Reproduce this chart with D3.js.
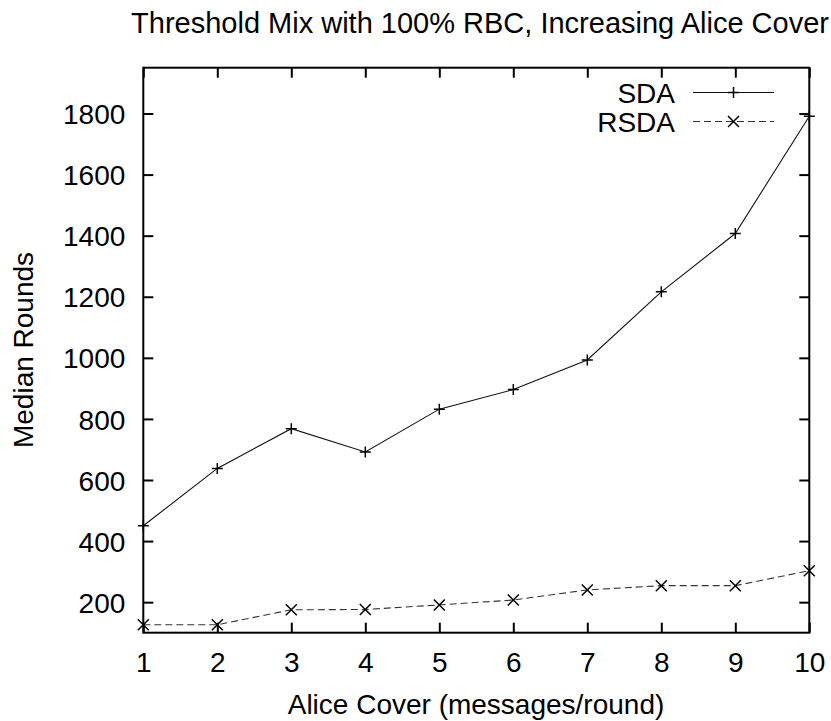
<!DOCTYPE html>
<html>
<head>
<meta charset="utf-8">
<script src="https://cdn.jsdelivr.net/npm/d3@7"></script>
<style>
  html, body { margin: 0; padding: 0; background: #fff; }
  svg text { font-family: "Liberation Sans", Arial, Helvetica, sans-serif; fill: #000; }
</style>
</head>
<body>
<svg id="chart" width="831" height="721"></svg>
<script>
// Alice cover level (messages per round)
const coverLevels = [1, 2, 3, 4, 5, 6, 7, 8, 9, 10];
// Median rounds for each attack
const sdaRounds  = [450, 638, 768, 692, 832, 896, 993, 1216, 1407, 1791];
const rsdaRounds = [126, 126, 175, 176, 191, 207, 240, 254, 254, 303];
const seriesNames = ["SDA", "RSDA"];
const yTickValues = [200, 400, 600, 800, 1000, 1200, 1400, 1600, 1800];

const svg = d3.select("#chart");
const plotLeft = 143.3, plotRight = 809.3, plotTop = 67.7, plotBottom = 632.7;

const x = d3.scaleLinear().domain([1, 10]).range([plotLeft, plotRight]);
const y = d3.scaleLinear().domain([100, 1950]).range([plotBottom, plotTop]);

const FS = 28;

// Title
svg.append("text")
  .attr("x", 480).attr("y", 33.3)
  .attr("text-anchor", "middle")
  .style("font-size", "29px")
  .text("Threshold Mix with 100% RBC, Increasing Alice Cover");

// Axes with inward ticks on all four sides
const tickLen = 10;
const axisStyle = g => {
  g.select(".domain").remove();
  g.selectAll(".tick line").attr("stroke", "#000").attr("stroke-width", 2);
  g.selectAll(".tick text").style("font-size", FS + "px").attr("fill", "#000")
    .style("font-family", '"Liberation Sans", Arial, sans-serif');
};

svg.append("g")
  .attr("transform", `translate(0,${plotBottom})`)
  .call(d3.axisBottom(x).tickValues(coverLevels).tickFormat(d3.format("d"))
    .tickSizeInner(-tickLen).tickSizeOuter(0).tickPadding(0))
  .call(axisStyle)
  .call(g => g.selectAll(".tick text").attr("y", 39).attr("dy", null));

svg.append("g")
  .attr("transform", `translate(0,${plotTop})`)
  .call(d3.axisTop(x).tickValues(coverLevels).tickFormat("")
    .tickSizeInner(-tickLen).tickSizeOuter(0))
  .call(axisStyle);

svg.append("g")
  .attr("transform", `translate(${plotLeft},0)`)
  .call(d3.axisLeft(y).tickValues(yTickValues).tickFormat(d3.format("d"))
    .tickSizeInner(-tickLen).tickSizeOuter(0).tickPadding(0))
  .call(axisStyle)
  .call(g => g.selectAll(".tick text").attr("x", -18).attr("dy", "0.36em"));

svg.append("g")
  .attr("transform", `translate(${plotRight},0)`)
  .call(d3.axisRight(y).tickValues(yTickValues).tickFormat("")
    .tickSizeInner(-tickLen).tickSizeOuter(0))
  .call(axisStyle);

// Plot frame
svg.append("rect")
  .attr("x", plotLeft).attr("y", plotTop)
  .attr("width", plotRight - plotLeft).attr("height", plotBottom - plotTop)
  .attr("fill", "none").attr("stroke", "#000").attr("stroke-width", 2);

// Axis titles
svg.append("text")
  .attr("x", 476).attr("y", 714)
  .attr("text-anchor", "middle")
  .style("font-size", FS + "px")
  .text("Alice Cover (messages/round)");

svg.append("text")
  .attr("transform", "translate(33,350) rotate(-90)")
  .attr("text-anchor", "middle")
  .style("font-size", FS + "px")
  .text("Median Rounds");

// Series
const line = d3.line().x(d => x(d[0])).y(d => y(d[1]));
const sdaPts = coverLevels.map((c, i) => [c, sdaRounds[i]]);
const rsdaPts = coverLevels.map((c, i) => [c, rsdaRounds[i]]);

const plot = svg.append("g");

plot.append("path").datum(sdaPts)
  .attr("d", line).attr("fill", "none")
  .attr("stroke", "#111").attr("stroke-width", 1.1);

plot.append("path").datum(rsdaPts)
  .attr("d", line).attr("fill", "none")
  .attr("stroke", "#333").attr("stroke-width", 1.1)
  .attr("stroke-dasharray", "7,4");

const plusPath = (cx, cy, r) => `M${cx - r},${cy}H${cx + r}M${cx},${cy - r}V${cy + r}`;
const crossPath = (cx, cy, r) => `M${cx - r},${cy - r}L${cx + r},${cy + r}M${cx - r},${cy + r}L${cx + r},${cy - r}`;

plot.selectAll(".pt-sda").data(sdaPts).join("path")
  .attr("class", "pt-sda")
  .attr("d", d => plusPath(x(d[0]), y(d[1]), 5.5))
  .attr("stroke", "#000").attr("stroke-width", 1.5).attr("fill", "none");

plot.selectAll(".pt-rsda").data(rsdaPts).join("path")
  .attr("class", "pt-rsda")
  .attr("d", d => crossPath(x(d[0]), y(d[1]), 5.5))
  .attr("stroke", "#000").attr("stroke-width", 1.5).attr("fill", "none");

// Legend
const legendRows = [
  { name: seriesNames[0], yl: 92.5, dash: null, marker: plusPath, color: "#111" },
  { name: seriesNames[1], yl: 121.5, dash: "7,4", marker: crossPath, color: "#333" }
];
const lg = svg.append("g");
legendRows.forEach(r => {
  lg.append("text")
    .attr("x", 675).attr("y", r.yl + 10)
    .attr("text-anchor", "end")
    .style("font-size", FS + "px")
    .text(r.name);
  lg.append("line")
    .attr("x1", 693).attr("x2", 774).attr("y1", r.yl).attr("y2", r.yl)
    .attr("stroke", r.color).attr("stroke-width", 1.1)
    .attr("stroke-dasharray", r.dash);
  lg.append("path")
    .attr("d", r.marker(733.5, r.yl, 5.5))
    .attr("stroke", "#000").attr("stroke-width", 1.5).attr("fill", "none");
});
</script>
</body>
</html>
